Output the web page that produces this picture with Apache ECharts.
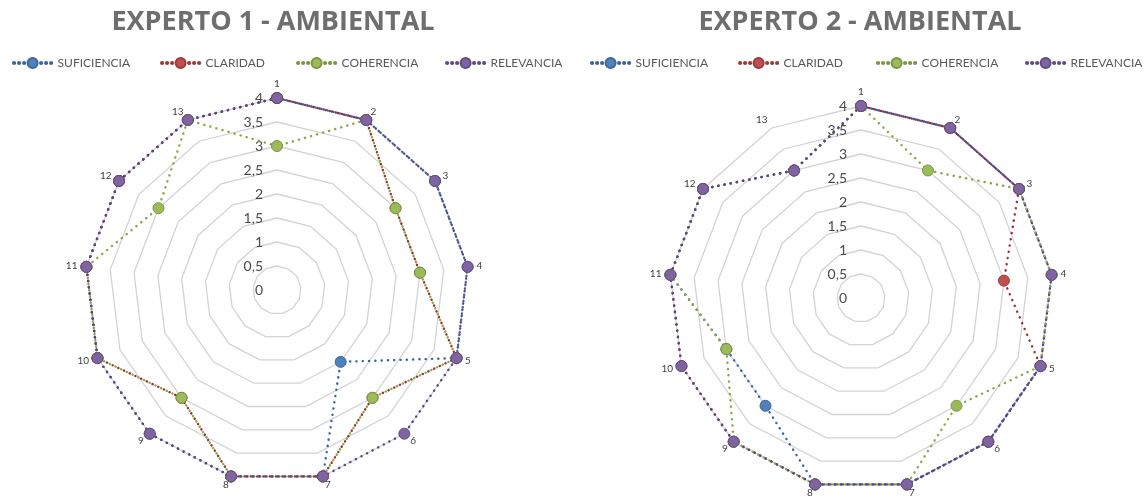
<!DOCTYPE html>
<html>
<head>
<meta charset="utf-8">
<script src="https://cdn.jsdelivr.net/npm/echarts@6/dist/echarts.min.js"></script>
<style>
  html, body { margin: 0; padding: 0; background: #ffffff; }
  #chart { width: 1146px; height: 498px; }
</style>
</head>
<body>
<div id="chart"></div>
<script>
// Ejes del radar (13 ítems evaluados)
const EJES = ['1', '2', '3', '4', '5', '6', '7', '8', '9', '10', '11', '12', '13'];
const SERIES = ['SUFICIENCIA', 'CLARIDAD', 'COHERENCIA', 'RELEVANCIA'];
const TITULOS = ['EXPERTO 1 - AMBIENTAL', 'EXPERTO 2 - AMBIENTAL'];
const ESCALA_MAX = 4;

// Experto 1
const e1Suficiencia = [4, 4, 4, 4, 4, 2, 4, 4, 4, 4, 4, 4, 4];
const e1Claridad    = [4, 4, 3, 3, 4, 3, 4, 4, 3, 4, 4, 4, 4];
const e1Coherencia  = [3, 4, 3, 3, 4, 3, 4, 4, 3, 4, 4, 3, 4];
const e1Relevancia  = [4, 4, 4, 4, 4, 4, 4, 4, 4, 4, 4, 4, 4];

// Experto 2
const e2Suficiencia = [4, 4, 4, 4, 4, 4, 4, 4, 3, 3, 4, 4, 3];
const e2Claridad    = [4, 4, 4, 3, 4, 4, 4, 4, 4, 4, 4, 4, 3];
const e2Coherencia  = [4, 3, 4, 4, 4, 3, 4, 4, 4, 3, 4, 4, 3];
const e2Relevancia  = [4, 4, 4, 4, 4, 4, 4, 4, 4, 4, 4, 4, 3];

const COLOR_MARCA = ['#4F81BD', '#C0504D', '#9BBB59', '#8064A2'];
const COLOR_BORDE = ['#3d6799', '#9a3c3a', '#7b9644', '#624b80'];
const COLOR_LINEA = ['#3466a8', '#a02c2c', '#88a845', '#5c428a'];

// ECharts places radar indicators counter-clockwise; walk the axes in reverse
// (keeping axis 1 on top) so that they read clockwise.
const ORDEN = [0].concat(EJES.map((_, i) => i).slice(1).reverse());
const reordenar = arr => ORDEN.map(i => arr[i]);

const FUENTE = 'Lato, "Open Sans", "Liberation Sans", sans-serif';

function indicadores() {
  return ORDEN.map((i, k) => {
    const ind = { name: EJES[i], min: 0, max: ESCALA_MAX };
    if (k === 0) {
      ind.axisLabel = {
        show: true,
        margin: 14,
        color: '#4a4a4a',
        fontSize: 14,
        fontFamily: FUENTE,
        formatter: v => String(v).replace('.', ',')
      };
    }
    return ind;
  });
}

function radar(centro) {
  return {
    center: centro,
    radius: 192,
    shape: 'polygon',
    splitNumber: 8,
    indicator: indicadores(),
    axisName: { color: '#404040', fontSize: 10, fontFamily: FUENTE },
    nameGap: 9,
    axisLine: { show: false },
    axisTick: { show: false },
    axisLabel: { show: false },
    splitArea: { show: false },
    splitLine: { lineStyle: { color: '#d3d3d3', width: 1.3 } }
  };
}

function serie(radarIndex, valores) {
  return {
    type: 'radar',
    radarIndex: radarIndex,
    symbol: 'circle',
    symbolSize: 11,
    data: valores.map((v, s) => ({
      name: SERIES[s],
      value: reordenar(v),
      itemStyle: { color: COLOR_MARCA[s], borderColor: COLOR_BORDE[s], borderWidth: 1 },
      lineStyle: { color: COLOR_LINEA[s], width: 2.4, type: [0.2, 6.1], cap: 'round' }
    }))
  };
}

// Legend icon: dotted line with a marker in the middle
function circulo(cx, cy, r) {
  return 'M' + (cx - r) + ',' + cy + 'a' + r + ',' + r + ' 0 1,0 ' + (2 * r) + ',0' +
         'a' + r + ',' + r + ' 0 1,0 ' + (-2 * r) + ',0Z';
}
const ICONO = 'path://' + [
  circulo(2.5, 5, 1.1), circulo(7.5, 5, 1.1), circulo(12.5, 5, 1.1),
  circulo(21, 5, 5),
  circulo(29.5, 5, 1.1), circulo(34.5, 5, 1.1), circulo(39.5, 5, 1.1)
].join('');

const POS_LEYENDA = [[7, 155, 291, 440], [585, 733, 871, 1020]];
const leyendas = [];
POS_LEYENDA.forEach(fila => {
  fila.forEach((x, s) => {
    leyendas.push({
      left: x,
      top: 52,
      data: [SERIES[s]],
      icon: ICONO,
      itemWidth: 40,
      itemHeight: 10,
      selectedMode: false,
      textStyle: { color: '#595959', fontSize: 12, fontFamily: FUENTE }
    });
  });
});

const chart = echarts.init(document.getElementById('chart'), null, { renderer: 'canvas' });
chart.setOption({
  animation: false,
  backgroundColor: '#ffffff',
  title: [
    { text: TITULOS[0], left: 268, top: 4, textAlign: 'center',
      textStyle: { color: '#6e6e6e', fontSize: 27, fontWeight: 'bold', fontFamily: '"Open Sans", sans-serif' } },
    { text: TITULOS[1], left: 855, top: 4, textAlign: 'center',
      textStyle: { color: '#6e6e6e', fontSize: 27, fontWeight: 'bold', fontFamily: '"Open Sans", sans-serif' } }
  ],
  legend: leyendas,
  radar: [radar([277, 290]), radar([861, 298])],
  series: [
    serie(0, [e1Suficiencia, e1Claridad, e1Coherencia, e1Relevancia]),
    serie(1, [e2Suficiencia, e2Claridad, e2Coherencia, e2Relevancia])
  ]
});
</script>
</body>
</html>
